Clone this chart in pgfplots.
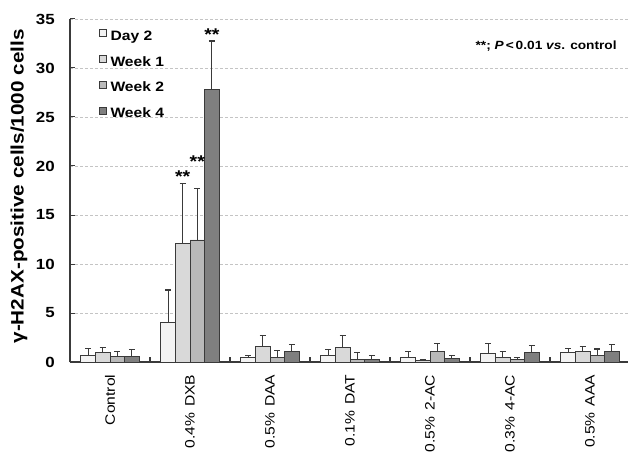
\documentclass[border=0pt]{standalone}
\usepackage{fontspec}
\setmainfont{Liberation Sans}[FakeStretch=1.15]
\usepackage{pgfplots}
\usepackage{pgfplotstable}
\pgfplotsset{compat=1.18}
\definecolor{cD}{HTML}{F3F3F3}
\definecolor{cWa}{HTML}{D9D9D9}
\definecolor{cWb}{HTML}{B9B9B9}
\definecolor{cWd}{HTML}{7F7F7F}
\definecolor{edge}{HTML}{3A3A3A}
\definecolor{gridc}{HTML}{C4C4C4}

\pgfplotstableread{
x y e
0 0.70 0.70
1 4.05 3.30
2 0.44 0.21
3 0.67 0.59
4 0.45 0.65
5 0.85 1.00
6 0.98 0.42
}\dayTwo
\pgfplotstableread{
x y e
0 1.00 0.50
1 12.10 6.10
2 1.56 1.13
3 1.47 1.28
4 0.15 0.10
5 0.50 0.58
6 1.05 0.53
}\weekOne
\pgfplotstableread{
x y e
0 0.60 0.50
1 12.45 5.25
2 0.44 0.71
3 0.30 0.68
4 1.05 0.85
5 0.22 0.21
6 0.67 0.66
}\weekTwo
\pgfplotstableread{
x y e
0 0.60 0.65
1 27.80 4.95
2 1.09 0.71
3 0.28 0.39
4 0.40 0.30
5 0.98 0.70
6 1.05 0.70
}\weekFour

\begin{document}
\begin{tikzpicture}
\begin{axis}[
  scale only axis, width=558pt, height=343pt,
  xmin=-0.5, xmax=6.475, ymin=0, ymax=35,
  axis x line*=bottom, axis y line*=left,
  axis line style={draw=edge, line width=1.2pt},
  ybar=0pt, bar width=14.6pt,
  ytick={0,5,...,35},
  xtick={0,...,6},
  xticklabels={Control, 0.4\%\hspace{0.45em}DXB, 0.5\%\hspace{0.45em}DAA, 0.1\%\hspace{0.45em}DAT, 0.5\%\hspace{0.45em}2-AC, 0.3\%\hspace{0.45em}4-AC, 0.5\%\hspace{0.45em}AAA},
  tick align=inside, major tick length=5pt,
  ytick style={draw=edge, line width=1pt},
  xtick style={draw=none},
  extra x ticks={0.5,1.5,2.5,3.5,4.5,5.5},
  extra x tick labels={},
  extra x tick style={grid=none, xtick style={draw=edge, line width=1.2pt}},
  ymajorgrids=true,
  major grid style={draw=gridc, line width=0.8pt, dash pattern=on 3pt off 2pt},
  /pgf/number format/assume math mode=true,
  yticklabel style={font=\fontsize{14.7}{14.7}\selectfont\bfseries, inner sep=0pt, anchor=east, xshift=-15pt},
  xticklabel style={font=\fontsize{13.6}{13.6}\selectfont, rotate=90, anchor=east, inner sep=0pt},
  xticklabel shift=12.5pt,
  ylabel={\bfseries γ-H2AX-positive cells/1000 cells},
  ylabel style={font=\fontsize{18}{18}\selectfont, at={(axis description cs:-0.0914,0.512)}, anchor=center},
  legend style={at={(axis description cs:0.052,0.970)}, anchor=north west, draw=none, fill=none,
    inner sep=0pt, row sep=12.3pt, font=\fontsize{13.6}{13.6}\selectfont\bfseries,
    nodes={inner sep=0pt, text height=9.7pt, text depth=2.3pt},
    /tikz/every odd column/.style={column sep=3.5pt}},
  legend cell align=left,
  legend image code/.code={\draw[#1, line width=0.8pt] (0pt,0pt) rectangle (7pt,7pt);},
  error bars/y dir=plus, error bars/y explicit,
  error bars/error bar style={draw=edge, line width=1.1pt},
  error bars/error mark options={draw=edge, rotate=90, mark size=3pt, line width=1.1pt},
  clip=false,
]
\addplot[fill=cD, draw=edge, line width=0.8pt] table[x=x, y=y, y error=e] {\dayTwo};
\addplot[fill=cWa, draw=edge, line width=0.8pt] table[x=x, y=y, y error=e] {\weekOne};
\addplot[fill=cWb, draw=edge, line width=0.8pt] table[x=x, y=y, y error=e] {\weekTwo};
\addplot[fill=cWd, draw=edge, line width=0.8pt] table[x=x, y=y, y error=e] {\weekFour};
\legend{Day 2, Week 1, Week 2, Week 4}
\node[anchor=base, xshift=-7.3pt, font=\fontsize{17}{17}\selectfont\bfseries] at (axis cs:1,18.3) {**};
\node[anchor=base, xshift=7.3pt, font=\fontsize{17}{17}\selectfont\bfseries] at (axis cs:1,19.8) {**};
\node[anchor=base, xshift=21.9pt, font=\fontsize{17}{17}\selectfont\bfseries] at (axis cs:1,32.8) {**};
\node[anchor=base east, inner sep=0pt, font=\fontsize{11.9}{11.9}\selectfont\bfseries] at (axis description cs:0.980,0.911) {**; \textit{P}\,<\,0.01 \textit{vs}. control};
\end{axis}
\pgfresetboundingbox
\useasboundingbox (-70pt,-98pt) rectangle (558pt,362pt);
\end{tikzpicture}
\end{document}
